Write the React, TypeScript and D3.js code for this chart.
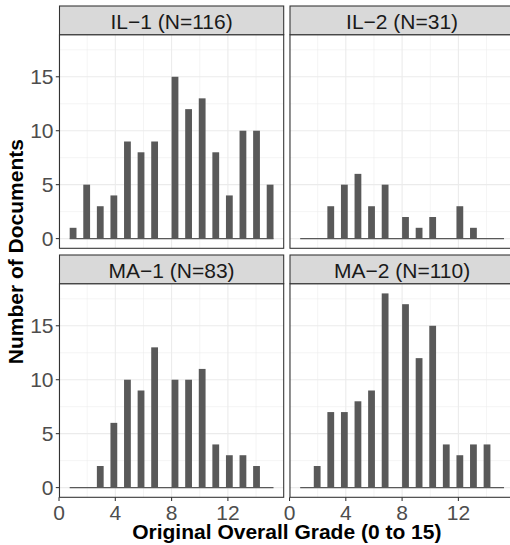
import React, { useEffect, useRef } from 'react';
import * as d3 from 'd3';

// grades 1..15, document counts per grade for each panel
const grades = [1, 2, 3, 4, 5, 6, 7, 8, 9, 10, 11, 12, 13, 14, 15];
const il1Counts = [1, 5, 3, 4, 9, 8, 9, 15, 12, 13, 8, 4, 10, 10, 5];
const il2Counts = [0, 0, 3, 5, 6, 3, 5, 2, 1, 2, 0, 3, 1, 0, 0];
const ma1Counts = [0, 0, 2, 6, 10, 9, 13, 10, 10, 11, 4, 3, 3, 2, 0];
const ma2Counts = [0, 2, 7, 7, 8, 9, 18, 17, 12, 15, 4, 3, 4, 4, 0];

const panelTitles = ['IL\u22121 (N=116)', 'IL\u22122 (N=31)', 'MA\u22121 (N=83)', 'MA\u22122 (N=110)'];
const panelCounts = [il1Counts, il2Counts, ma1Counts, ma2Counts];

const xTicks = [0, 4, 8, 12];
const xMinor = [2, 6, 10, 14];
const yTicks = [0, 5, 10, 15];
const yMinor = [2.5, 7.5, 12.5, 17.5];

const FONT = 'Liberation Sans, Arial, Helvetica, sans-serif';

function App() {
  const ref = useRef<SVGSVGElement | null>(null);

  useEffect(() => {
    const svg = d3.select(ref.current);
    svg.selectAll('*').remove();

    const width = 510;
    const height = 545;
    const colLefts = [59.5, 290];
    const rowTops = [6, 255];
    const panelW = 224.2;
    const stripH = 28.7;
    const plotH = 213.6;

    // 30 bins like ggplot's default histogram
    const nBins = 30;
    const lo = d3.min(grades) as number;
    const hi = d3.max(grades) as number;
    const bw = (hi - lo) / (nBins - 1);
    const start = lo - bw / 2;
    const end = start + nBins * bw;
    const thresholds = d3.range(1, nBins).map(k => start + k * bw - 1e-9);
    const span = end - start;

    const maxCount = d3.max(panelCounts.flat()) as number;
    const y0 = d3.scaleLinear()
      .domain([-0.05 * maxCount, maxCount * 1.05])
      .range([plotH, 0]);

    const binner = d3.bin().domain([start, end]).thresholds(thresholds);

    panelCounts.forEach((counts, i) => {
      const col = i % 2;
      const row = Math.floor(i / 2);
      const left = colLefts[col];
      const top = rowTops[row];
      const plotTop = top + stripH;

      const x = d3.scaleLinear()
        .domain([start - 0.05 * span, end + 0.05 * span])
        .range([left, left + panelW]);
      const y = y0.copy().range([plotTop + plotH, plotTop]);

      const values = grades.flatMap((g, j) => d3.range(counts[j]).map(() => g));
      const bins = binner(values);

      const g = svg.append('g');

      // background
      g.append('rect')
        .attr('x', left).attr('y', plotTop)
        .attr('width', panelW).attr('height', plotH)
        .attr('fill', 'white');

      // grid
      g.selectAll('.ymin').data(yMinor).enter().append('line')
        .attr('x1', left).attr('x2', left + panelW)
        .attr('y1', d => y(d)).attr('y2', d => y(d))
        .attr('stroke', '#ebebeb').attr('stroke-width', 0.55);
      g.selectAll('.xmin').data(xMinor).enter().append('line')
        .attr('x1', d => x(d)).attr('x2', d => x(d))
        .attr('y1', plotTop).attr('y2', plotTop + plotH)
        .attr('stroke', '#ebebeb').attr('stroke-width', 0.55);
      g.selectAll('.ymaj').data(yTicks).enter().append('line')
        .attr('x1', left).attr('x2', left + panelW)
        .attr('y1', d => y(d)).attr('y2', d => y(d))
        .attr('stroke', '#ebebeb').attr('stroke-width', 1.07);
      g.selectAll('.xmaj').data(xTicks).enter().append('line')
        .attr('x1', d => x(d)).attr('x2', d => x(d))
        .attr('y1', plotTop).attr('y2', plotTop + plotH)
        .attr('stroke', '#ebebeb').attr('stroke-width', 1.07);

      // zero-height bins show as a line
      g.append('line')
        .attr('x1', x(start)).attr('x2', x(end))
        .attr('y1', y(0)).attr('y2', y(0))
        .attr('stroke', '#595959').attr('stroke-width', 1.07);

      g.selectAll('.bar').data(bins.filter(b => b.length > 0)).enter().append('rect')
        .attr('x', b => x(b.x0 as number))
        .attr('width', b => x(b.x1 as number) - x(b.x0 as number))
        .attr('y', b => y(b.length))
        .attr('height', b => y(0) - y(b.length))
        .attr('fill', '#595959');

      // border
      g.append('rect')
        .attr('x', left).attr('y', plotTop)
        .attr('width', panelW).attr('height', plotH)
        .attr('fill', 'none').attr('stroke', '#333333').attr('stroke-width', 1.07);

      // strip
      g.append('rect')
        .attr('x', left).attr('y', top)
        .attr('width', panelW).attr('height', stripH)
        .attr('fill', '#d9d9d9').attr('stroke', '#333333').attr('stroke-width', 1.07);
      g.append('text')
        .attr('x', left + panelW / 2).attr('y', top + 23.3)
        .attr('text-anchor', 'middle')
        .attr('font-family', FONT).attr('font-size', 21)
        .attr('fill', '#1a1a1a')
        .text(panelTitles[i]);

      if (col === 0) {
        const ya = g.append('g');
        ya.selectAll('line').data(yTicks).enter().append('line')
          .attr('x1', left - 3.7).attr('x2', left)
          .attr('y1', d => y(d)).attr('y2', d => y(d))
          .attr('stroke', '#333333').attr('stroke-width', 1.07);
        ya.selectAll('text').data(yTicks).enter().append('text')
          .attr('x', left - 6).attr('y', d => y(d))
          .attr('dy', '0.36em')
          .attr('text-anchor', 'end')
          .attr('font-family', FONT).attr('font-size', 21)
          .attr('fill', '#4d4d4d')
          .text(d => d);
      }
      if (row === 1) {
        const xa = g.append('g');
        xa.selectAll('line').data(xTicks).enter().append('line')
          .attr('x1', d => x(d)).attr('x2', d => x(d))
          .attr('y1', plotTop + plotH).attr('y2', plotTop + plotH + 3.7)
          .attr('stroke', '#333333').attr('stroke-width', 1.07);
        xa.selectAll('text').data(xTicks).enter().append('text')
          .attr('x', d => x(d)).attr('y', plotTop + plotH + 22.5)
          .attr('text-anchor', 'middle')
          .attr('font-family', FONT).attr('font-size', 21)
          .attr('fill', '#4d4d4d')
          .text(d => d);
      }
    });

    const areaLeft = colLefts[0];
    const areaRight = colLefts[1] + panelW;
    svg.append('text')
      .attr('x', (areaLeft + areaRight) / 2).attr('y', 538.5)
      .attr('text-anchor', 'middle')
      .attr('font-family', FONT).attr('font-size', 21).attr('font-weight', 'bold')
      .attr('fill', 'black')
      .text('Original Overall Grade (0 to 15)');

    const midY = (rowTops[0] + rowTops[1] + stripH + plotH) / 2;
    svg.append('text')
      .attr('transform', `translate(22.5,${midY}) rotate(-90)`)
      .attr('text-anchor', 'middle')
      .attr('font-family', FONT).attr('font-size', 21).attr('font-weight', 'bold')
      .attr('fill', 'black')
      .text('Number of Documents');

    svg.attr('width', width).attr('height', height);
  }, []);

  return (
    <svg
      ref={ref}
      width={510}
      height={545}
      style={{ position: 'absolute', left: 0, top: 0, display: 'block', background: 'white' }}
    />
  );
}

export default App;
